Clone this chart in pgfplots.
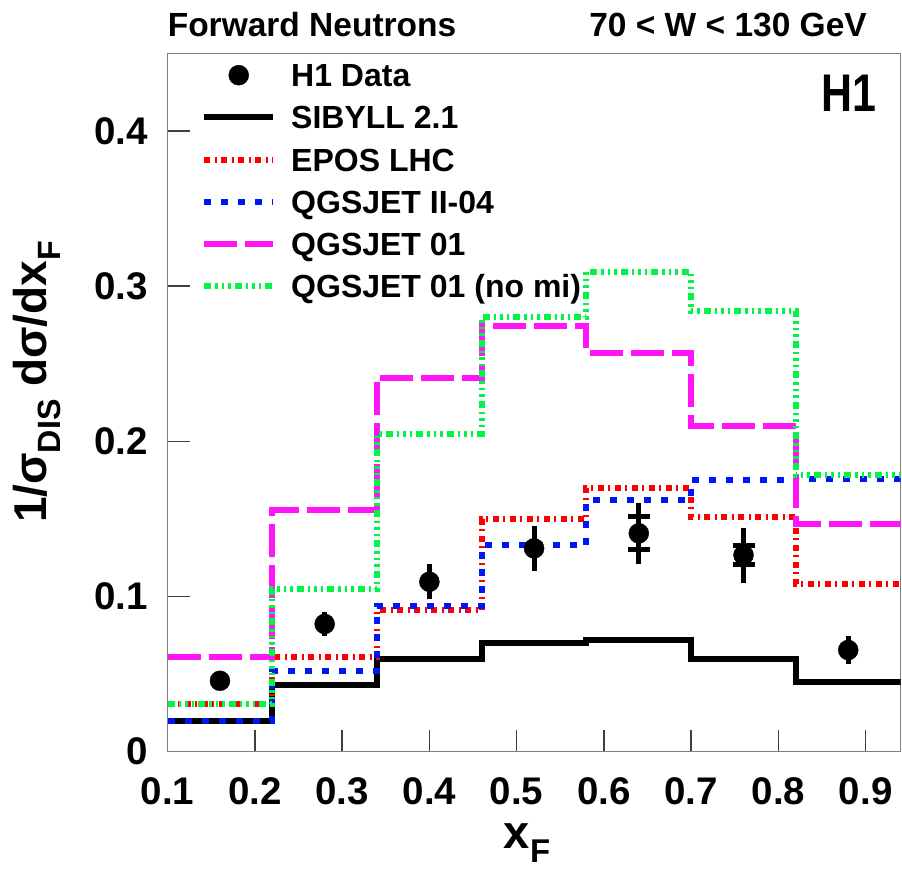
\documentclass[border=0pt]{standalone}
\usepackage{fontspec}
\setmainfont{Liberation Sans}
\newfontfamily\narrowsans[FakeStretch=0.81]{Liberation Sans}
\usepackage{graphicx}
\usepackage{pgfplots}
\usepackage{pgfplotstable}
\pgfplotsset{compat=1.18}

% lowered, reduced subscript as in the axis titles
\newcommand\sub[1]{\raisebox{-0.3em}{\scalebox{0.7}{#1}}}

\definecolor{rootred}{RGB}{255,0,0}
\definecolor{rootblue}{RGB}{0,20,245}
\definecolor{rootmagenta}{RGB}{255,20,245}
\definecolor{rootgreen}{RGB}{0,245,70}
\definecolor{framegray}{RGB}{128,128,128}

% model predictions, bin contents at the left bin edges (last row closes the histogram)
\pgfplotstableread{
x     sib    epos   qii    qzero  qnomi
0.10  0.020  0.031  0.020  0.061  0.031
0.22  0.043  0.061  0.052  0.156  0.105
0.34  0.060  0.091  0.094  0.241  0.205
0.46  0.070  0.150  0.133  0.274  0.280
0.58  0.072  0.170  0.162  0.257  0.309
0.70  0.060  0.151  0.175  0.210  0.284
0.82  0.045  0.108  0.176  0.147  0.178
0.94  0.045  0.108  0.176  0.147  0.178
}\models

% H1 measurement: value and total uncertainty
\pgfplotstableread{
x     y       tot
0.16  0.0457  0.0040
0.28  0.0823  0.0078
0.40  0.1095  0.0114
0.52  0.1310  0.0147
0.64  0.1407  0.0198
0.76  0.1267  0.0177
0.88  0.0655  0.0092
}\hdata

% statistical uncertainty, where it shows outside the marker
\pgfplotstableread{
x     y       stat
0.64  0.1407  0.0107
0.76  0.1267  0.0064
}\hstat

\begin{document}
\begin{tikzpicture}
\useasboundingbox (-167.6pt,-120.3pt) rectangle (734.4pt,751.7pt);
\begin{axis}[
  at={(0pt,0pt)}, anchor=south west,
  scale only axis,
  width=733pt, height=698.4pt,
  xmin=0.1, xmax=0.94, ymin=0, ymax=0.45,
  xtick={0.1,0.2,0.3,0.4,0.5,0.6,0.7,0.8,0.9},
  ytick={0,0.1,0.2,0.3,0.4},
  minor tick num=0,
  xtick pos=bottom, ytick pos=left,
  tick align=inside,
  major tick length=22pt,
  major tick style={draw=black!75, line width=1.5pt},
  axis line style={draw=framegray, line width=1.5pt},
  /pgf/number format/assume math mode=true,
  every tick label/.append style={font=\fontsize{38.5}{40}\selectfont\bfseries, inner sep=0pt},
  xticklabel shift=26pt,
  yticklabel shift=19.6pt,
  legend image code/.code={\draw[#1] (0pt,11.5pt) -- (69pt,11.5pt);},
  legend style={draw=none, fill=none, inner xsep=0pt, inner ysep=0pt,
    at={(0.0456,0.9897)}, anchor=north west,
    column sep=15pt, row sep=0pt,
    font=\fontsize{32}{38}\selectfont\bfseries,
    cells={anchor=base west},
    nodes={inner sep=0pt, text height=26pt, text depth=16.2pt}},
]

% legend entries
\addlegendimage{legend image code/.code={\fill[black] (34.5pt,11.5pt) circle[radius=10pt]; \path[draw=none, fill=none] (0pt,11.5pt) rectangle (69pt,11.5pt);}}
\addlegendentry{H1 Data}
\addlegendimage{black, line width=6pt}
\addlegendentry{SIBYLL 2.1}
\addlegendimage{rootred, line width=6pt, dash pattern=on 6pt off 4.5pt on 2pt off 4.5pt}
\addlegendentry{EPOS LHC}
\addlegendimage{rootblue, line width=6pt, dash pattern=on 7pt off 10pt}
\addlegendentry{QGSJET II-04}
\addlegendimage{rootmagenta, line width=6pt, dash pattern=on 33pt off 8pt}
\addlegendentry{QGSJET 01}
\addlegendimage{rootgreen, line width=6pt, dash pattern=on 7pt off 4pt on 2.5pt off 4pt on 2.5pt off 4pt on 2.5pt off 4pt}
\addlegendentry{QGSJET 01 (no mi)}

% model histograms
\addplot[forget plot, const plot, black, line width=6pt] table[x=x, y=sib] {\models};
\addplot[forget plot, const plot, rootred, line width=6pt, dash pattern=on 6pt off 4.5pt on 2pt off 4.5pt] table[x=x, y=epos] {\models};
\addplot[forget plot, const plot, rootblue, line width=6pt, dash pattern=on 7pt off 10pt] table[x=x, y=qii] {\models};
\addplot[forget plot, const plot, rootmagenta, line width=6pt, dash pattern=on 33pt off 8pt] table[x=x, y=qzero] {\models};
\addplot[forget plot, const plot, rootgreen, line width=6pt, dash pattern=on 7pt off 4pt on 2.5pt off 4pt on 2.5pt off 4pt on 2.5pt off 4pt] table[x=x, y=qnomi] {\models};

% data: total uncertainty bars and markers
\addplot[forget plot, black, only marks, mark=*, mark size=10pt,
  mark options={fill=black, line width=0.4pt},
  error bars/.cd, y dir=both, y explicit, error mark=none,
  error bar style={line width=5pt, black}]
  table[x=x, y=y, y error=tot] {\hdata};
% statistical uncertainty ticks
\addplot[forget plot, black, only marks, mark=*, mark size=0.1pt,
  error bars/.cd, y dir=both, y explicit, error mark=|,
  error bar style={line width=5pt, black},
  error mark options={line width=5pt, mark size=11pt, black}]
  table[x=x, y=y, y error=stat] {\hstat};
\end{axis}

% titles and labels
\node[anchor=base west, inner sep=0pt, font=\fontsize{33.5}{40}\selectfont\bfseries] at (0pt,714.7pt) {Forward Neutrons};
\node[anchor=base east, inner sep=0pt, font=\fontsize{33.5}{40}\selectfont\bfseries] at (699.4pt,714.7pt) {70 < W < 130 GeV};
\node[anchor=base east, inner sep=0pt, font=\narrowsans\bfseries\fontsize{53}{60}\selectfont] at (709.1pt,640pt) {H1};
\node[rotate=90, inner sep=0pt, font=\fontsize{46}{50}\selectfont\bfseries] at (-130.6pt,369.7pt) {1/σ\sub{DIS} dσ/dx\sub{F}};
\node[anchor=base, inner sep=0pt, font=\fontsize{47}{50}\selectfont\bfseries] at (359.4pt,-97pt) {x\sub{F}};
\end{tikzpicture}
\end{document}
